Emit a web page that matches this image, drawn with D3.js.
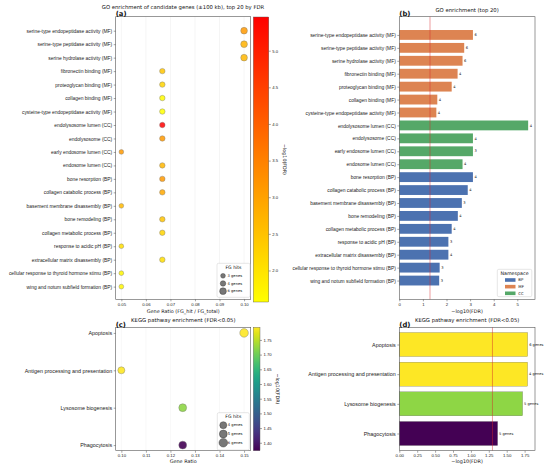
<!DOCTYPE html>
<html lang="en">
<head>
  <meta charset="UTF-8" />
  <title>GO / KEGG enrichment</title>
  <script src="https://cdn.jsdelivr.net/npm/d3@7"></script>
  <style>
    body { margin: 0; background: #fff; }
    svg { font-family: "DejaVu Sans", sans-serif; }
  </style>
</head>
<body>
<script>
  // GO terms, top 20 by FDR
  var goTerms = [
    "serine-type endopeptidase activity (MF)",
    "serine-type peptidase activity (MF)",
    "serine hydrolase activity (MF)",
    "fibronectin binding (MF)",
    "proteoglycan binding (MF)",
    "collagen binding (MF)",
    "cysteine-type endopeptidase activity (MF)",
    "endolysosome lumen (CC)",
    "endolysosome (CC)",
    "early endosome lumen (CC)",
    "endosome lumen (CC)",
    "bone resorption (BP)",
    "collagen catabolic process (BP)",
    "basement membrane disassembly (BP)",
    "bone remodeling (BP)",
    "collagen metabolic process (BP)",
    "response to acidic pH (BP)",
    "extracellular matrix disassembly (BP)",
    "cellular response to thyroid hormone stimu (BP)",
    "wing and notum subfield formation (BP)"
  ];
  var goNamespace = ["MF", "MF", "MF", "MF", "MF", "MF", "MF",
    "CC", "CC", "CC", "CC",
    "BP", "BP", "BP", "BP", "BP", "BP", "BP", "BP", "BP"];
  var goLogFdr = [3.12, 2.75, 2.68, 2.47, 2.22, 1.61, 1.57, 5.46, 3.12, 3.12,
    2.68, 3.12, 2.90, 2.65, 2.48, 2.22, 2.08, 2.08, 1.71, 1.69];
  var goHits = [6, 6, 6, 4, 4, 4, 4, 4, 4, 3, 4, 4, 4, 3, 4, 4, 3, 4, 3, 3];
  var goRatio = [0.100, 0.100, 0.100, 0.0667, 0.0667, 0.0667, 0.0667, 0.0667, 0.0667, 0.05,
    0.0667, 0.0667, 0.0667, 0.05, 0.0667, 0.0667, 0.05, 0.0667, 0.05, 0.05];

  // KEGG pathways (FDR<0.05)
  var keggTerms = ["Apoptosis", "Antigen processing and presentation", "Lysosome biogenesis", "Phagocytosis"];
  var keggRatio = [0.15, 0.10, 0.125, 0.125];
  var keggHits = [6, 4, 5, 5];
  var keggLogFdr = [1.793, 1.792, 1.722, 1.373];

  var nsNames = ["BP", "MF", "CC"];
  var nsColors = {BP: "#4c72b0", MF: "#dd8452", CC: "#55a868"};
  var fdrCut = -Math.log10(0.05);

  var svg = d3.select("body").append("svg")
    .attr("width", 550)
    .attr("height", 469);
  svg.append("rect").attr("width", 550).attr("height", 469).attr("fill", "#fff");
  var defs = svg.append("defs");

  function styleAxis(size) {
    return function(g) {
      g.select(".domain").remove();
      g.selectAll(".tick line").attr("stroke", "#333").attr("stroke-width", 0.45);
      g.selectAll(".tick text").attr("fill", "#222").attr("font-size", size || 4.2);
    };
  }

  function frame(x0, y0, x1, y1) {
    svg.append("rect")
      .attr("x", x0).attr("y", y0)
      .attr("width", x1 - x0).attr("height", y1 - y0)
      .attr("fill", "none")
      .attr("stroke", "#555")
      .attr("stroke-width", 0.6);
  }

  function text(x, y, s, size, anchor, weight) {
    return svg.append("text")
      .attr("x", x).attr("y", y)
      .attr("font-size", size)
      .attr("text-anchor", anchor || "middle")
      .attr("font-weight", weight || "normal")
      .attr("fill", "#111")
      .text(s);
  }

  function colorbar(id, x, y0, y1, w, scale, interp, ticks, fmt, labelX) {
    var grad = defs.append("linearGradient").attr("id", id)
      .attr("x1", 0).attr("y1", 1).attr("x2", 0).attr("y2", 0);
    d3.range(0, 1.0001, 0.05).forEach(function(t) {
      grad.append("stop").attr("offset", t).attr("stop-color", interp(t));
    });
    svg.append("rect").attr("x", x).attr("y", y0).attr("width", w).attr("height", y1 - y0)
      .attr("fill", "url(#" + id + ")").attr("stroke", "#555").attr("stroke-width", 0.4);
    svg.append("g")
      .attr("transform", "translate(" + (x + w) + ",0)")
      .call(d3.axisRight(scale).tickValues(ticks).tickSize(2).tickPadding(1.5).tickFormat(d3.format(fmt)))
      .call(styleAxis(4.2));
    text(labelX, (y0 + y1) / 2, "\u2212log10(FDR)", 4.8)
      .attr("transform", "rotate(90," + labelX + "," + ((y0 + y1) / 2) + ")");
  }

  function sizeLegend(x, y, w, h, hits, rScale) {
    svg.append("rect").attr("x", x).attr("y", y).attr("width", w).attr("height", h)
      .attr("rx", 1.5).attr("fill", "#fff").attr("fill-opacity", 0.85)
      .attr("stroke", "#ccc").attr("stroke-width", 0.5);
    text(x + w / 2, y + 5.4, "FG hits", 4.6);
    var step = (h - 11) / hits.length;
    hits.forEach(function(n, i) {
      var cy = y + 12.5 + i * step;
      svg.append("circle").attr("cx", x + 6).attr("cy", cy).attr("r", rScale(n))
        .attr("fill", "#777").attr("stroke", "#333").attr("stroke-width", 0.4);
      text(x + 10.5, cy + 1.2, n + " genes", 3.7, "start");
    });
  }

  // ---------- (a) GO bubble ----------
  var aL = 115.7, aR = 250.7, aT = 16.7, aB = 299.3;
  var xA = d3.scaleLinear().domain([0.0477, 0.1027]).range([aL, aR]);
  var yA = d3.scaleLinear().domain([-1.04, 19.94]).range([aT, aB]);
  var rA = function(n) { return 1.37 * Math.sqrt(n); };
  var goExt = d3.extent(goLogFdr);
  var interpA = d3.interpolateRgb("#ffff00", "#ff0000");
  var colA = d3.scaleSequential(interpA).domain(goExt);

  svg.append("g").selectAll("line")
    .data(xA.ticks(6))
    .enter().append("line")
    .attr("x1", function(d) { return xA(d); }).attr("x2", function(d) { return xA(d); })
    .attr("y1", aT).attr("y2", aB)
    .attr("stroke", "#ebebeb").attr("stroke-width", 0.5);

  svg.append("g").selectAll("circle")
    .data(goTerms)
    .enter().append("circle")
    .attr("cx", function(d, i) { return xA(goRatio[i]); })
    .attr("cy", function(d, i) { return yA(i); })
    .attr("r", function(d, i) { return rA(goHits[i]); })
    .attr("fill", function(d, i) { return colA(goLogFdr[i]); })
    .attr("fill-opacity", 0.85)
    .attr("stroke", "#777").attr("stroke-width", 0.4);

  svg.append("g").attr("transform", "translate(0," + aB + ")")
    .call(d3.axisBottom(xA).tickValues([0.05, 0.06, 0.07, 0.08, 0.09, 0.10]).tickSize(2).tickPadding(1.5).tickFormat(d3.format(".2f")))
    .call(styleAxis(4.3));
  svg.append("g").attr("transform", "translate(" + aL + ",0)")
    .call(d3.axisLeft(yA).tickValues(d3.range(goTerms.length)).tickSize(2).tickPadding(1.5)
      .tickFormat(function(i) { return goTerms[i]; }))
    .call(styleAxis(4.9));
  frame(aL, aT, aR, aB);
  text(183, 9.2, "GO enrichment of candidate genes (\u00b1100 kb), top 20 by FDR", 5.3);
  text(aL, 16, "(a)", 6.8, "start", "bold");
  text((aL + aR) / 2, 312.5, "Gene Ratio (FG_hit / FG_total)", 4.9);

  var cbA = d3.scaleLinear().domain(goExt).range([302, 17]);
  colorbar("cbA", 253.3, 17, 302, 15.5, cbA, interpA, [2, 2.5, 3, 3.5, 4, 4.5, 5], ".1f", 283);
  sizeLegend(217, 263.3, 33, 34, [3, 4, 6], rA);

  // ---------- (b) GO bars ----------
  var bL = 399.3, bR = 535, bT = 16.7, bB = 299.3;
  var xB = d3.scaleLinear().domain([0, 5.75]).range([bL, bR]);
  var yB = d3.scaleLinear().domain([-1.41, 20.45]).range([bT, bB]);
  var bh = 0.76 * (yB(1) - yB(0));

  svg.append("g").selectAll("rect")
    .data(goTerms)
    .enter().append("rect")
    .attr("x", xB(0))
    .attr("y", function(d, i) { return yB(i) - bh / 2; })
    .attr("width", function(d, i) { return xB(goLogFdr[i]) - xB(0); })
    .attr("height", bh)
    .attr("fill", function(d, i) { return nsColors[goNamespace[i]]; });

  svg.append("g").selectAll("text")
    .data(goTerms)
    .enter().append("text")
    .attr("x", function(d, i) { return xB(goLogFdr[i]) + 1.5; })
    .attr("y", function(d, i) { return yB(i) + 1.2; })
    .attr("font-size", 3.6)
    .attr("fill", "#222")
    .text(function(d, i) { return goHits[i]; });

  svg.append("line")
    .attr("x1", xB(fdrCut)).attr("x2", xB(fdrCut)).attr("y1", bT).attr("y2", bB)
    .attr("stroke", "#d62728").attr("stroke-opacity", 0.75).attr("stroke-width", 0.6);

  svg.append("g").attr("transform", "translate(0," + bB + ")")
    .call(d3.axisBottom(xB).tickValues([0, 1, 2, 3, 4, 5]).tickSize(2).tickPadding(1.5).tickFormat(d3.format("d")))
    .call(styleAxis(4.3));
  svg.append("g").attr("transform", "translate(" + bL + ",0)")
    .call(d3.axisLeft(yB).tickValues(d3.range(goTerms.length)).tickSize(2).tickPadding(1.5)
      .tickFormat(function(i) { return goTerms[i]; }))
    .call(styleAxis(4.9));
  frame(bL, bT, bR, bB);
  text((bL + bR) / 2, 12.4, "GO enrichment (top 20)", 5.3);
  text(bL, 16, "(b)", 6.8, "start", "bold");
  text((bL + bR) / 2, 312.5, "\u2212log10(FDR)", 4.9);

  // namespace legend
  var lgB = svg.append("g");
  lgB.append("rect").attr("x", 497.3).attr("y", 269.3).attr("width", 34.5).attr("height", 27.4)
    .attr("rx", 1.5).attr("fill", "#fff").attr("fill-opacity", 0.85)
    .attr("stroke", "#ccc").attr("stroke-width", 0.5);
  text(514.5, 274.8, "Namespace", 4.8);
  nsNames.forEach(function(ns, i) {
    var yy = 280 + i * 6.65;
    lgB.append("rect").attr("x", 505).attr("y", yy - 1.8).attr("width", 10.5).attr("height", 3.6)
      .attr("fill", nsColors[ns]);
    text(518.3, yy + 1.3, ns, 3.9, "start");
  });

  // ---------- (c) KEGG bubble ----------
  var cL = 115.7, cR = 250.7, cT = 327.3, cB = 450.7;
  var xC = d3.scaleLinear().domain([0.0977, 0.1527]).range([cL, cR]);
  var yC = d3.scaleLinear().domain([-0.15, 3.15]).range([cT, cB]);
  var rC = function(n) { return 1.76 * Math.sqrt(n); };
  var keggExt = d3.extent(keggLogFdr);
  var colC = d3.scaleSequential(d3.interpolateViridis).domain(keggExt);

  svg.append("g").selectAll("line")
    .data([0.10, 0.11, 0.12, 0.13, 0.14, 0.15])
    .enter().append("line")
    .attr("x1", function(d) { return xC(d); }).attr("x2", function(d) { return xC(d); })
    .attr("y1", cT).attr("y2", cB)
    .attr("stroke", "#f0f0f0").attr("stroke-width", 0.5);

  svg.append("g").selectAll("circle")
    .data(keggTerms)
    .enter().append("circle")
    .attr("cx", function(d, i) { return xC(keggRatio[i]); })
    .attr("cy", function(d, i) { return yC(i); })
    .attr("r", function(d, i) { return rC(keggHits[i]); })
    .attr("fill", function(d, i) { return colC(keggLogFdr[i]); })
    .attr("fill-opacity", 0.9)
    .attr("stroke", "#777").attr("stroke-width", 0.4);

  svg.append("g").attr("transform", "translate(0," + cB + ")")
    .call(d3.axisBottom(xC).tickValues([0.10, 0.11, 0.12, 0.13, 0.14, 0.15]).tickSize(2).tickPadding(1.5).tickFormat(d3.format(".2f")))
    .call(styleAxis(4.3));
  svg.append("g").attr("transform", "translate(" + cL + ",0)")
    .call(d3.axisLeft(yC).tickValues(d3.range(keggTerms.length)).tickSize(2).tickPadding(1.5)
      .tickFormat(function(i) { return keggTerms[i]; }))
    .call(styleAxis(5.4));
  frame(cL, cT, cR, cB);
  text(183.3, 321.8, "KEGG pathway enrichment (FDR<0.05)", 5.3);
  text(cL, 326.5, "(c)", 6.8, "start", "bold");
  text((cL + cR) / 2, 463.3, "Gene Ratio", 4.9);

  var cbC = d3.scaleLinear().domain(keggExt).range([cB, cT]);
  colorbar("cbC", 253.3, cT, cB, 6.7, cbC, d3.interpolateViridis,
    [1.40, 1.45, 1.50, 1.55, 1.60, 1.65, 1.70, 1.75], ".2f", 276);
  sizeLegend(217.3, 412.7, 32, 37.3, [4, 5, 6], rC);

  // ---------- (d) KEGG bars ----------
  var dL = 399.3, dR = 535, dT = 327.3, dB = 450.7;
  var xD = d3.scaleLinear().domain([0, 1.895]).range([dL, dR]);
  var yD = d3.scaleLinear().domain([-0.58, 3.58]).range([dT, dB]);
  var dh = 0.81 * (yD(1) - yD(0));

  svg.append("g").selectAll("rect")
    .data(keggTerms)
    .enter().append("rect")
    .attr("x", xD(0))
    .attr("y", function(d, i) { return yD(i) - dh / 2; })
    .attr("width", function(d, i) { return xD(keggLogFdr[i]) - xD(0); })
    .attr("height", dh)
    .attr("fill", function(d, i) { return colC(keggLogFdr[i]); })
    .attr("stroke", "#666").attr("stroke-width", 0.3);

  svg.append("g").selectAll("text")
    .data(keggTerms)
    .enter().append("text")
    .attr("x", function(d, i) { return xD(keggLogFdr[i]) + 1.5; })
    .attr("y", function(d, i) { return yD(i) + 1.2; })
    .attr("font-size", 3.6)
    .attr("fill", "#222")
    .text(function(d, i) { return keggHits[i] + " genes"; });

  svg.append("line")
    .attr("x1", xD(fdrCut)).attr("x2", xD(fdrCut)).attr("y1", dT).attr("y2", dB)
    .attr("stroke", "#d62728").attr("stroke-opacity", 0.75).attr("stroke-width", 0.6);

  svg.append("g").attr("transform", "translate(0," + dB + ")")
    .call(d3.axisBottom(xD).tickValues([0, 0.25, 0.5, 0.75, 1, 1.25, 1.5, 1.75]).tickSize(2).tickPadding(1.5).tickFormat(d3.format(".2f")))
    .call(styleAxis(4.3));
  svg.append("g").attr("transform", "translate(" + dL + ",0)")
    .call(d3.axisLeft(yD).tickValues(d3.range(keggTerms.length)).tickSize(2).tickPadding(1.5)
      .tickFormat(function(i) { return keggTerms[i]; }))
    .call(styleAxis(5.4));
  frame(dL, dT, dR, dB);
  text((dL + dR) / 2, 321.8, "KEGG pathway enrichment (FDR<0.05)", 5.3);
  text(dL, 326.5, "(d)", 6.8, "start", "bold");
  text((dL + dR) / 2, 463.3, "\u2212log10(FDR)", 4.9);
</script>
</body>
</html>
